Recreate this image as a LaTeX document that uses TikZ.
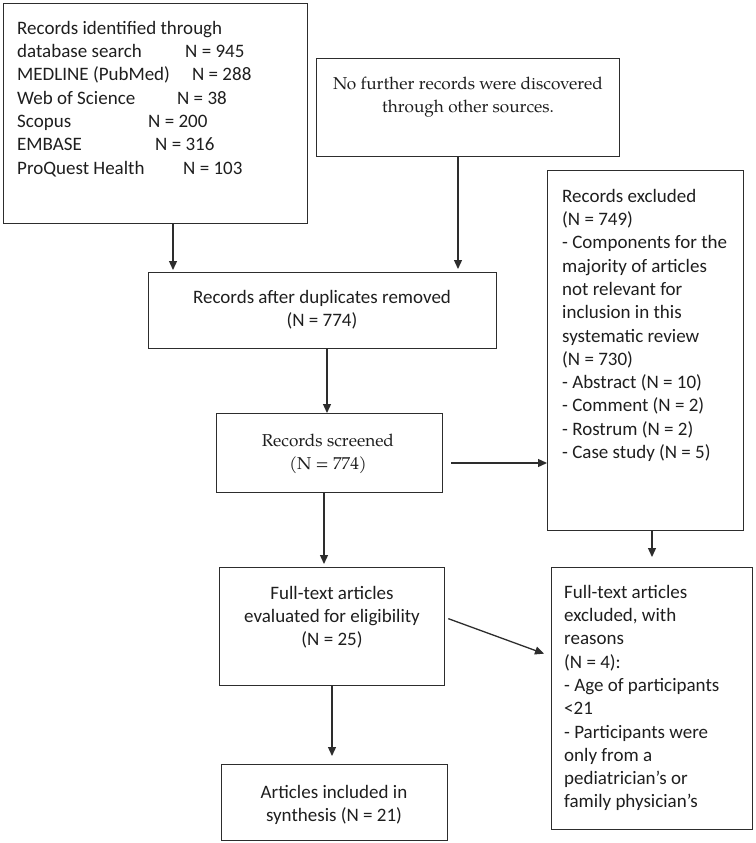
\documentclass[tikz,border=0pt]{standalone}
\usepackage{fontspec}
\setmainfont{Carlito}
\newfontfamily\serifpal{TeX Gyre Pagella}
\usetikzlibrary{arrows.meta}
\definecolor{linec}{RGB}{45,45,45}
\definecolor{txtc}{RGB}{30,30,30}
\tikzset{
  box/.style={draw=linec, line width=1.3pt, inner sep=0pt, anchor=north west},
  sanstxt/.style={inner sep=0pt, text=txtc, font=\fontsize{19}{23.3}\selectfont},
  seriftxt/.style={inner sep=0pt, text=txtc, font=\serifpal\fontsize{17.2}{23.6}\selectfont},
  arr/.style={draw=linec, line width=1.3pt, -{Triangle[length=9pt,width=8pt]}},
}
\newcommand{\fl}{\rule{0pt}{16pt}}
\begin{document}
\begin{tikzpicture}[x=1pt,y=-1pt]
\useasboundingbox (0,0) rectangle (755,843);
% boxes
\node[box, minimum width=304pt, minimum height=220pt] (A) at (3,3) {};
\node[box, minimum width=303pt, minimum height=98pt]  (B) at (316,58) {};
\node[box, minimum width=348pt, minimum height=76pt]  (C) at (148,272) {};
\node[box, minimum width=196pt, minimum height=360pt] (D) at (547,170) {};
\node[box, minimum width=226pt, minimum height=79pt]  (E) at (216,413) {};
\node[box, minimum width=225pt, minimum height=118pt] (F) at (219,567) {};
\node[box, minimum width=201pt, minimum height=262pt] (G) at (551,567) {};
\node[box, minimum width=226pt, minimum height=76pt]  (H) at (221,764) {};
% texts
\node[sanstxt, anchor=north west, align=left] (At) at (17,18) {\fl Records identified through\\
\makebox[168pt][l]{database search}N = 945\\
\makebox[175pt][l]{MEDLINE (PubMed)}N = 288\\
\makebox[160pt][l]{Web of Science}N = 38\\
\makebox[131pt][l]{Scopus}N = 200\\
\makebox[138pt][l]{EMBASE}N = 316\\
\makebox[166pt][l]{ProQuest Health}N = 103};
\node[seriftxt, anchor=north, align=center] (Bt) at (468,73) {\fl No further records were discovered\\through other sources.};
\node[sanstxt, anchor=north, align=center] (Ct) at (322,287) {\fl Records after duplicates removed\\(N = 774)};
\node[sanstxt, anchor=north west, align=left] (Dt) at (562,186) {\fl Records excluded\\(N = 749)\\- Components for the\\majority of articles\\not relevant for\\inclusion in this\\systematic review\\(N = 730)\\- Abstract (N = 10)\\- Comment (N = 2)\\- Rostrum (N = 2)\\- Case study (N = 5)};
\node[seriftxt, anchor=north, align=center] (Et) at (328,430) {\fl Records screened\\(N = 774)};
\node[sanstxt, anchor=north, align=center] (Ft) at (332,583) {\fl Full-text articles\\evaluated for eligibility\\(N = 25)};
\node[sanstxt, anchor=north west, align=left] (Gt) at (564,582) {\fl Full-text articles\\excluded, with\\reasons\\(N = 4):\\- Age of participants\\<21\\- Participants were\\only from a\\pediatrician’s or\\family physician’s};
\node[sanstxt, anchor=north, align=center] (Ht) at (334,782) {\fl Articles included in\\synthesis (N = 21)};
% connector guides
\coordinate (xa) at (173,0);
\coordinate (xb) at (458,0);
\coordinate (xc) at (327,0);
\coordinate (ye) at (0,463);
\coordinate (xf) at (324,0);
\coordinate (xg) at (652,0);
\coordinate (xh) at (332,0);
% connectors
\draw[arr] (A.south -| xa) -- ([yshift=2pt]C.north -| xa);
\draw[arr] (B.south -| xb) -- ([yshift=3pt]C.north -| xb);
\draw[arr] (C.south -| xc) -- (E.north -| xc);
\draw[arr] ([xshift=8pt]E.east |- ye) -- (D.west |- ye);
\draw[arr] (E.south -| xf) -- ([yshift=3pt]F.north -| xf);
\draw[arr] (D.south -| xg) -- ([yshift=10pt]G.north -| xg);
\draw[arr] ([shift={(3pt,8pt)}]F.east) -- ([shift={(-7pt,45pt)}]G.west);
\draw[arr] (F.south -| xh) -- ([yshift=8pt]H.north -| xh);
\end{tikzpicture}
\end{document}
